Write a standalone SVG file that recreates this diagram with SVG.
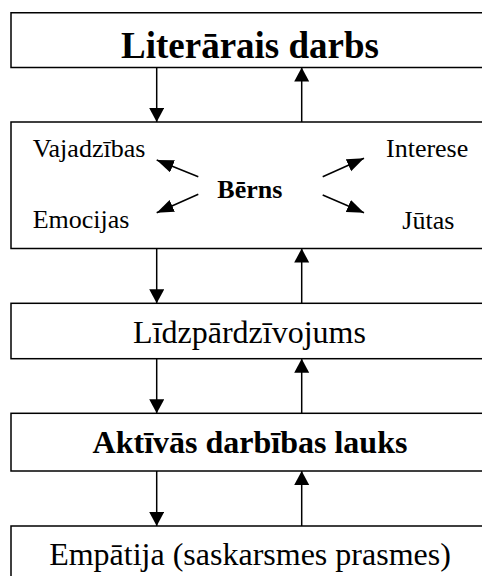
<svg xmlns="http://www.w3.org/2000/svg" width="482" height="576" viewBox="0 0 482 576">
<defs>
<marker id="ah" markerUnits="userSpaceOnUse" markerWidth="15" markerHeight="16" refX="14" refY="7.5" orient="auto">
<path d="M0,0 L14,7.5 L0,15 z" fill="#000"/>
</marker>
<marker id="ahs" markerUnits="userSpaceOnUse" markerWidth="18" markerHeight="14" refX="17" refY="6.5" orient="auto">
<path d="M0,0 L17,6.5 L0,13 z" fill="#000"/>
</marker>
</defs>
<style>
rect{fill:#fff;stroke:#000;stroke-width:1.5}
text{font-family:"Liberation Serif","Times New Roman",serif;fill:#000}
.c{text-anchor:middle}
.b{font-weight:bold}
.conn line{stroke:#000;stroke-width:1.5}
.v line{marker-end:url(#ah)}
.d line{marker-end:url(#ahs)}
</style>
<rect x="0" y="0" width="482" height="576" style="fill:#fff;stroke:none"/>
<g id="n-literarais">
<rect x="11" y="12.75" width="480" height="54.75"/>
<text class="c b" x="250" y="57.7" font-size="37">Literārais darbs</text>
</g>
<g id="n-berns">
<rect x="11" y="122" width="480" height="126.5"/>
<text x="32.7" y="156.7" font-size="26">Vajadzības</text>
<text x="32.7" y="228.3" font-size="26">Emocijas</text>
<text class="b" x="217.3" y="198.3" font-size="26">Bērns</text>
<text x="386" y="156.7" font-size="26">Interese</text>
<text x="402.3" y="228.5" font-size="26">Jūtas</text>
</g>
<g id="n-lidzpardzivojums">
<rect x="11" y="303.3" width="480" height="55.4"/>
<text class="c" x="249.5" y="343.3" font-size="32">Līdzpārdzīvojums</text>
</g>
<g id="n-aktivas">
<rect x="11" y="413.3" width="480" height="57.7"/>
<text class="c b" x="250" y="453.3" font-size="32">Aktīvās darbības lauks</text>
</g>
<g id="n-empatija">
<rect x="11" y="526" width="480" height="70"/>
<text class="c" x="250" y="565" font-size="32">Empātija (saskarsmes prasmes)</text>
</g>
<g id="connectors" class="conn">
<g class="v">
<line x1="156.7" y1="67.5" x2="156.7" y2="122"/>
<line x1="301.7" y1="122" x2="301.7" y2="67.5"/>
<line x1="156.7" y1="248.5" x2="156.7" y2="303.3"/>
<line x1="301.7" y1="303.3" x2="301.7" y2="248.5"/>
<line x1="156.7" y1="358.7" x2="156.7" y2="413.3"/>
<line x1="301.7" y1="413.3" x2="301.7" y2="358.7"/>
<line x1="156.7" y1="471" x2="156.7" y2="526"/>
<line x1="301.7" y1="526" x2="301.7" y2="471"/>
</g>
<g class="d">
<line x1="198.3" y1="176.7" x2="156.7" y2="160"/>
<line x1="198.3" y1="194.3" x2="156.7" y2="212.7"/>
<line x1="322.7" y1="176.7" x2="364" y2="158.3"/>
<line x1="322.7" y1="195" x2="364" y2="212.7"/>
</g>
</g>
</svg>
